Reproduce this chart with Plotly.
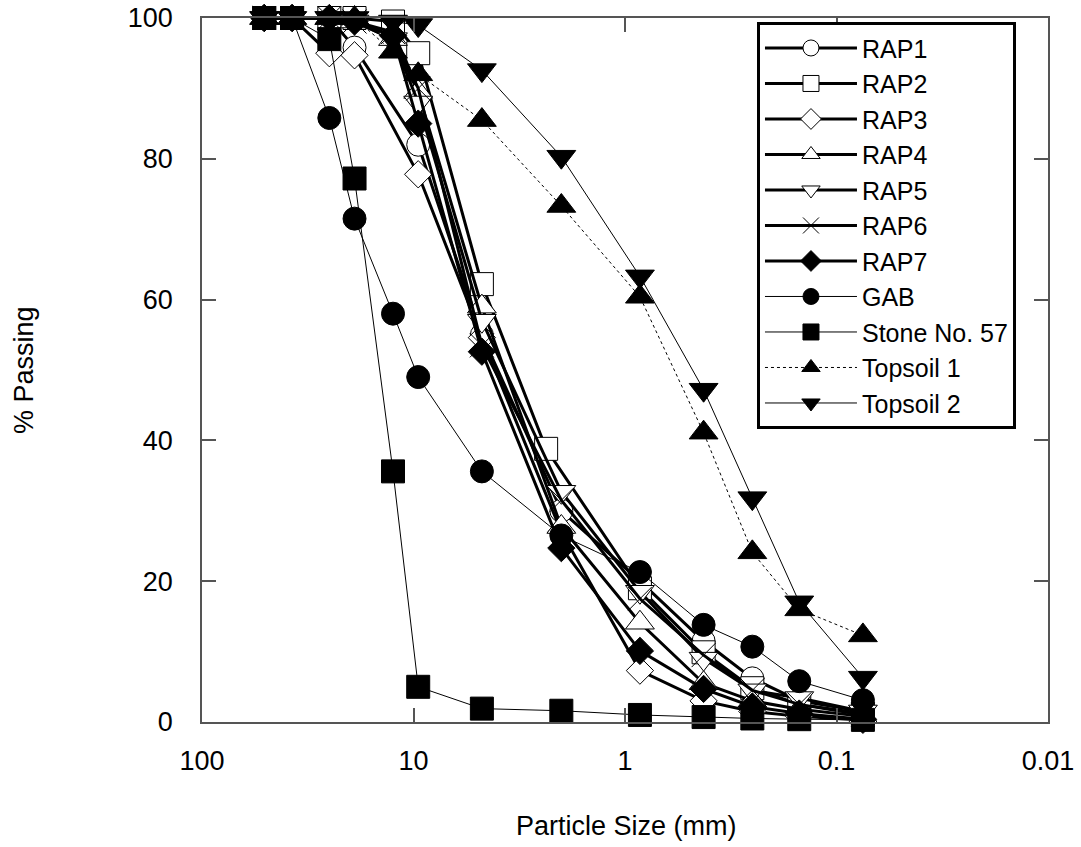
import plotly.graph_objects as go

# Sieve openings (mm)
sieves = [50.8, 37.5, 25.0, 19.0, 12.5, 9.5, 4.75, 2.0, 0.85, 0.425, 0.25, 0.15, 0.075]
sieves_no125 = [50.8, 37.5, 25.0, 19.0, 9.5, 4.75, 2.0, 0.85, 0.425, 0.25, 0.15, 0.075]
sieves_rap2 = [50.8, 37.5, 25.0, 19.0, 12.5, 9.5, 4.75, 2.36, 0.85, 0.425, 0.25, 0.15, 0.075]

# Percent passing for each material
rap1 = [100, 100, 100, 95.8, 82, 55, 30, 20, 11.5, 6.2, 3, 1.5]
rap2 = [100, 100, 100, 100, 99.5, 95, 62.2, 38.8, 19, 9.9, 4.8, 2.5, 1.2]
rap3 = [100, 100, 95, 94.7, 77.8, 54.6, 27, 7.3, 3, 1.5, 0.8, 0.3]
rap4 = [100, 100, 100, 99.5, 97, 89.5, 59, 27.7, 14.1, 5.5, 3, 1.8, 0.8]
rap5 = [100, 100, 100, 99.5, 97, 88, 57, 32.7, 18.5, 9, 4.5, 3.4, 1.5]
rap6 = [100, 100, 100, 99.5, 98, 90, 53.5, 31.5, 17.5, 9.5, 4.5, 2.5, 1]
rap7 = [100, 100, 100, 99.5, 97.5, 85, 52.6, 24.7, 10.1, 4.7, 2.2, 1.2, 0.4]
gab = [100, 100, 85.8, 71.5, 58, 49, 35.6, 26.5, 21.3, 13.8, 10.7, 5.8, 3.1]
stone57 = [100, 100, 97, 77.2, 35.6, 5, 1.9, 1.6, 1.0, 0.7, 0.5, 0.4, 0.3]
topsoil1 = [100, 100, 100, 100, 95.2, 92, 85.5, 73.3, 60.4, 41.1, 24.1, 16, 12.3]
topsoil2 = [100, 100, 100, 100, 99.5, 99, 92.6, 80.3, 63.3, 47.2, 31.8, 17, 6.3]

x_tick_vals = [100, 10, 1, 0.1, 0.01]
x_tick_text = ["100", "10", "1", "0.1", "0.01"]
y_tick_vals = [0, 20, 40, 60, 80, 100]

FONT = "Liberation Sans, Arial, sans-serif"
AXIS_GRAY = "#555"

# (name, x, y, symbol, size, fill, line width, dash)
series = [
    ("RAP1", sieves_no125, rap1, "circle", 23, "white", 3, "solid"),
    ("RAP2", sieves_rap2, rap2, "square", 23, "white", 3, "solid"),
    ("RAP3", sieves_no125, rap3, "diamond", 21, "white", 3, "solid"),
    ("RAP4", sieves, rap4, "triangle-up", 25, "white", 3, "solid"),
    ("RAP5", sieves, rap5, "triangle-down", 25, "white", 3, "solid"),
    ("RAP6", sieves, rap6, "x-thin", 24, "black", 3, "solid"),
    ("RAP7", sieves, rap7, "diamond", 21, "black", 3, "solid"),
    ("GAB", sieves, gab, "circle", 23, "black", 1, "solid"),
    ("Stone No. 57", sieves, stone57, "square", 23, "black", 1, "solid"),
    ("Topsoil 1", sieves, topsoil1, "triangle-up", 25, "black", 1, "dot"),
    ("Topsoil 2", sieves, topsoil2, "triangle-down", 25, "black", 1, "solid"),
]

fig = go.Figure()
for name, xs, ys, sym, size, fill, lw, dash in series:
    fig.add_trace(go.Scatter(
        x=xs, y=ys, name=name, mode="lines+markers",
        line=dict(color="black", width=lw, dash=dash),
        marker=dict(symbol=sym, size=size, color=fill,
                    line=dict(color="black", width=1)),
        cliponaxis=False,
    ))

fig.update_layout(
    width=1081, height=847,
    margin=dict(l=202, r=33, t=18, b=125, autoexpand=False),
    paper_bgcolor="white", plot_bgcolor="white",
    font=dict(family=FONT, size=27, color="black"),
    showlegend=True,
    legend=dict(
        x=0.656, y=0.994, xanchor="left", yanchor="top",
        bordercolor="black", borderwidth=3, bgcolor="white",
        font=dict(family=FONT, size=25, color="black"),
        itemwidth=92, tracegroupgap=0,
    ),
    annotations=[
        dict(text="Particle Size (mm)", xref="paper", yref="paper",
             x=0.502, y=-0.148, xanchor="center", yanchor="middle",
             showarrow=False, font=dict(family=FONT, size=27)),
        dict(text="% Passing", xref="paper", yref="paper",
             x=-0.2104, y=0.5, xanchor="center", yanchor="middle",
             textangle=-90, showarrow=False, font=dict(family=FONT, size=27)),
    ],
)

fig.update_xaxes(
    type="log", range=[2, -2], autorange=False, automargin=False,
    tickvals=x_tick_vals, ticktext=x_tick_text,
    ticks="inside", ticklen=14, tickcolor=AXIS_GRAY, tickwidth=1.5,
    showline=True, linecolor=AXIS_GRAY, linewidth=1.5, mirror="ticks",
    showgrid=False, zeroline=False,
    tickfont=dict(family=FONT, size=27), ticklabelstandoff=14,
)
fig.update_yaxes(
    range=[0, 100], autorange=False, automargin=False,
    tickvals=y_tick_vals,
    ticks="inside", ticklen=14, tickcolor=AXIS_GRAY, tickwidth=1.5,
    showline=True, linecolor=AXIS_GRAY, linewidth=1.5, mirror="ticks",
    showgrid=False, zeroline=False,
    tickfont=dict(family=FONT, size=27), ticklabelstandoff=22,
)

fig.write_html("out.html")
